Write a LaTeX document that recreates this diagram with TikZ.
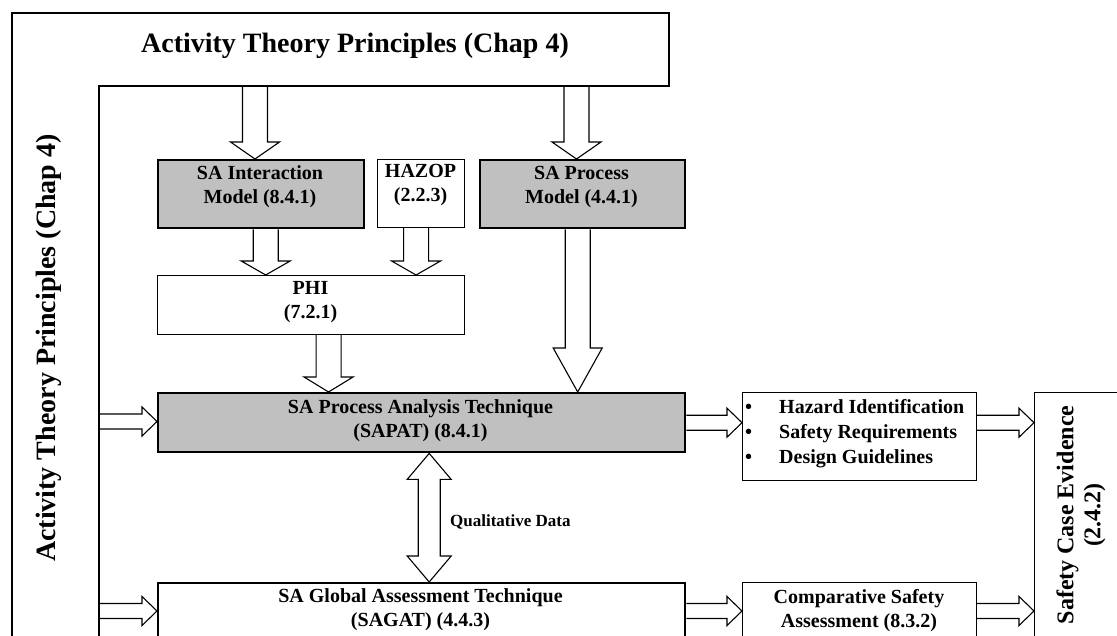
\documentclass[tikz,border=0pt]{standalone}
\usepackage{fontspec}
\setmainfont{Liberation Serif}
\usetikzlibrary{calc}
\definecolor{boxgray}{HTML}{C0C0C0}
% vertical block arrow: start point, end point (tip), head length
\newcommand{\VArrow}[3]{\draw[blockarrow] let \p1=(#1), \p2=(#2) in
  (\x1-12.5pt,\y1) -- (\x1-12.5pt,\y2+#3) -- (\x1-24.5pt,\y2+#3) -- (\x1,\y2)
  -- (\x1+24.5pt,\y2+#3) -- (\x1+12.5pt,\y2+#3) -- (\x1+12.5pt,\y1);}
% horizontal block arrow: start point, end point (tip x), head length
\newcommand{\HArrow}[3]{\draw[blockarrow] let \p1=(#1), \p2=(#2) in
  (\x1,\y1+7.5pt) -- (\x2-#3,\y1+7.5pt) -- (\x2-#3,\y1+14.5pt) -- (\x2,\y1)
  -- (\x2-#3,\y1-14.5pt) -- (\x2-#3,\y1-7.5pt) -- (\x1,\y1-7.5pt);}
% double vertical block arrow
\newcommand{\DArrow}[2]{\draw[blockarrow] let \p1=(#1), \p2=(#2) in
  (\x1,\y1) -- (\x1+22pt,\y1-26pt) -- (\x1+11pt,\y1-26pt) -- (\x1+11pt,\y2+26pt)
  -- (\x1+22pt,\y2+26pt) -- (\x1,\y2) -- (\x1-22pt,\y2+26pt) -- (\x1-11pt,\y2+26pt)
  -- (\x1-11pt,\y1-26pt) -- (\x1-22pt,\y1-26pt) -- cycle;}
\begin{document}
\begin{tikzpicture}[x=1pt,y=-1pt,
  box/.style={draw, line width=1.1pt, inner sep=0pt, anchor=north west, fill=white},
  gbox/.style={box, fill=boxgray, line width=2.4pt},
  txt/.style={font=\fontsize{20}{24}\selectfont\bfseries, align=center, inner sep=0pt, anchor=north},
  frame/.style={draw, line width=1.1pt},
  blockarrow/.style={draw, line width=1.1pt, line join=miter}]
\useasboundingbox (0,0) rectangle (1117,636);
\clip (0,0) rectangle (1117,636);

% L-shaped frame
\draw[frame] (12,660) -- (12,13) -- (669,13) -- (669,86) -- (99,86) -- (99,660);
\node[font=\fontsize{28}{33}\selectfont\bfseries, anchor=base, inner sep=0pt] (title) at (355,53) {Activity Theory Principles (Chap 4)};
\node[font=\fontsize{28}{33}\selectfont\bfseries, anchor=base, rotate=90, inner sep=0pt] (sidetitle) at (55,348) {Activity Theory Principles (Chap 4)};

% boxes
\node[gbox, minimum width=206pt, minimum height=68pt] (int) at (157,159) {};
\node[box, minimum width=87pt, minimum height=68pt] (haz) at (377,159) {};
\node[gbox, minimum width=205pt, minimum height=68pt] (proc) at (479,159) {};
\node[box, minimum width=307pt, minimum height=59pt] (phi) at (157,275) {};
\node[gbox, minimum width=527pt, minimum height=59pt] (sapat) at (157,392) {};
\node[box, minimum width=234pt, minimum height=88pt] (out) at (742,392) {};
\node[box, minimum width=120pt, minimum height=300pt] (safe) at (1034,392) {};
\node[box, line width=2.4pt, minimum width=527pt, minimum height=118pt] (sagat) at (157,582) {};
\node[box, minimum width=234pt, minimum height=118pt] (comp) at (742,582) {};

% texts
\node[txt] (intT) at (260,165.5) {SA Interaction\\Model (8.4.1)};
\node[txt] (hazT) at (420.5,164.5) {HAZOP\\(2.2.3)};
\node[txt] (procT) at (581.5,166.5) {SA Process\\Model (4.4.1)};
\node[txt] (phiT) at (310.5,281.5) {PHI\\(7.2.1)};
\node[txt] (sapatT) at (420.5,399.5) {SA Process Analysis Technique\\(SAPAT) (8.4.1)};
\node[txt] (sagatT) at (420.5,588.5) {SA Global Assessment Technique\\(SAGAT) (4.4.3)};
\node[txt] (compT) at (859,589.5) {Comparative Safety\\Assessment (8.3.2)};
\node[font=\fontsize{20}{25}\selectfont\bfseries, anchor=north west, inner sep=0pt] (outT) at (745,395.5)
  {\begin{tabular}{@{}l@{\hspace{27pt}}l@{}}\textbullet & Hazard Identification\\ \textbullet & Safety Requirements\\ \textbullet & Design Guidelines\end{tabular}};
\node[font=\fontsize{24}{27}\selectfont\bfseries, align=center, rotate=90, inner sep=0pt] (safeT) at (1081,515) {Safety Case Evidence\\(2.4.2)};
\node[font=\fontsize{17}{20}\selectfont\bfseries, anchor=base west, inner sep=0pt] (qual) at (450,526) {Qualitative Data};

% connector start points
\coordinate (t1) at (255,86);
\coordinate (t2) at (576.5,86);
\coordinate (l1) at (99,421.5);
\coordinate (l2) at (99,611);
\coordinate (dq) at ($(sapat.south)+(7.5,0)$);

% vertical arrows
\VArrow{t1}{int.north}{17pt}
\VArrow{t2}{proc.north}{17pt}
\VArrow{$(int.south)+(4.5,0)$}{phi.north}{14pt}
\VArrow{$(haz.south)+(-5,0)$}{phi.north}{14pt}
\VArrow{$(phi.south)+(17.5,0)$}{sapat.north}{15pt}
\VArrow{$(proc.south)+(-5,0)$}{sapat.north}{44pt}
% horizontal arrows
\HArrow{l1}{sapat.west}{15pt}
\HArrow{l2}{sagat.west}{15pt}
\HArrow{sapat.east}{out.west}{15pt}
\HArrow{out.east |- sapat.east}{safe.west}{15pt}
\HArrow{sagat.east |- l2}{comp.west}{15pt}
\HArrow{comp.east |- l2}{safe.west}{15pt}
% double arrow
\DArrow{dq}{dq |- sagat.north}
\end{tikzpicture}
\end{document}
